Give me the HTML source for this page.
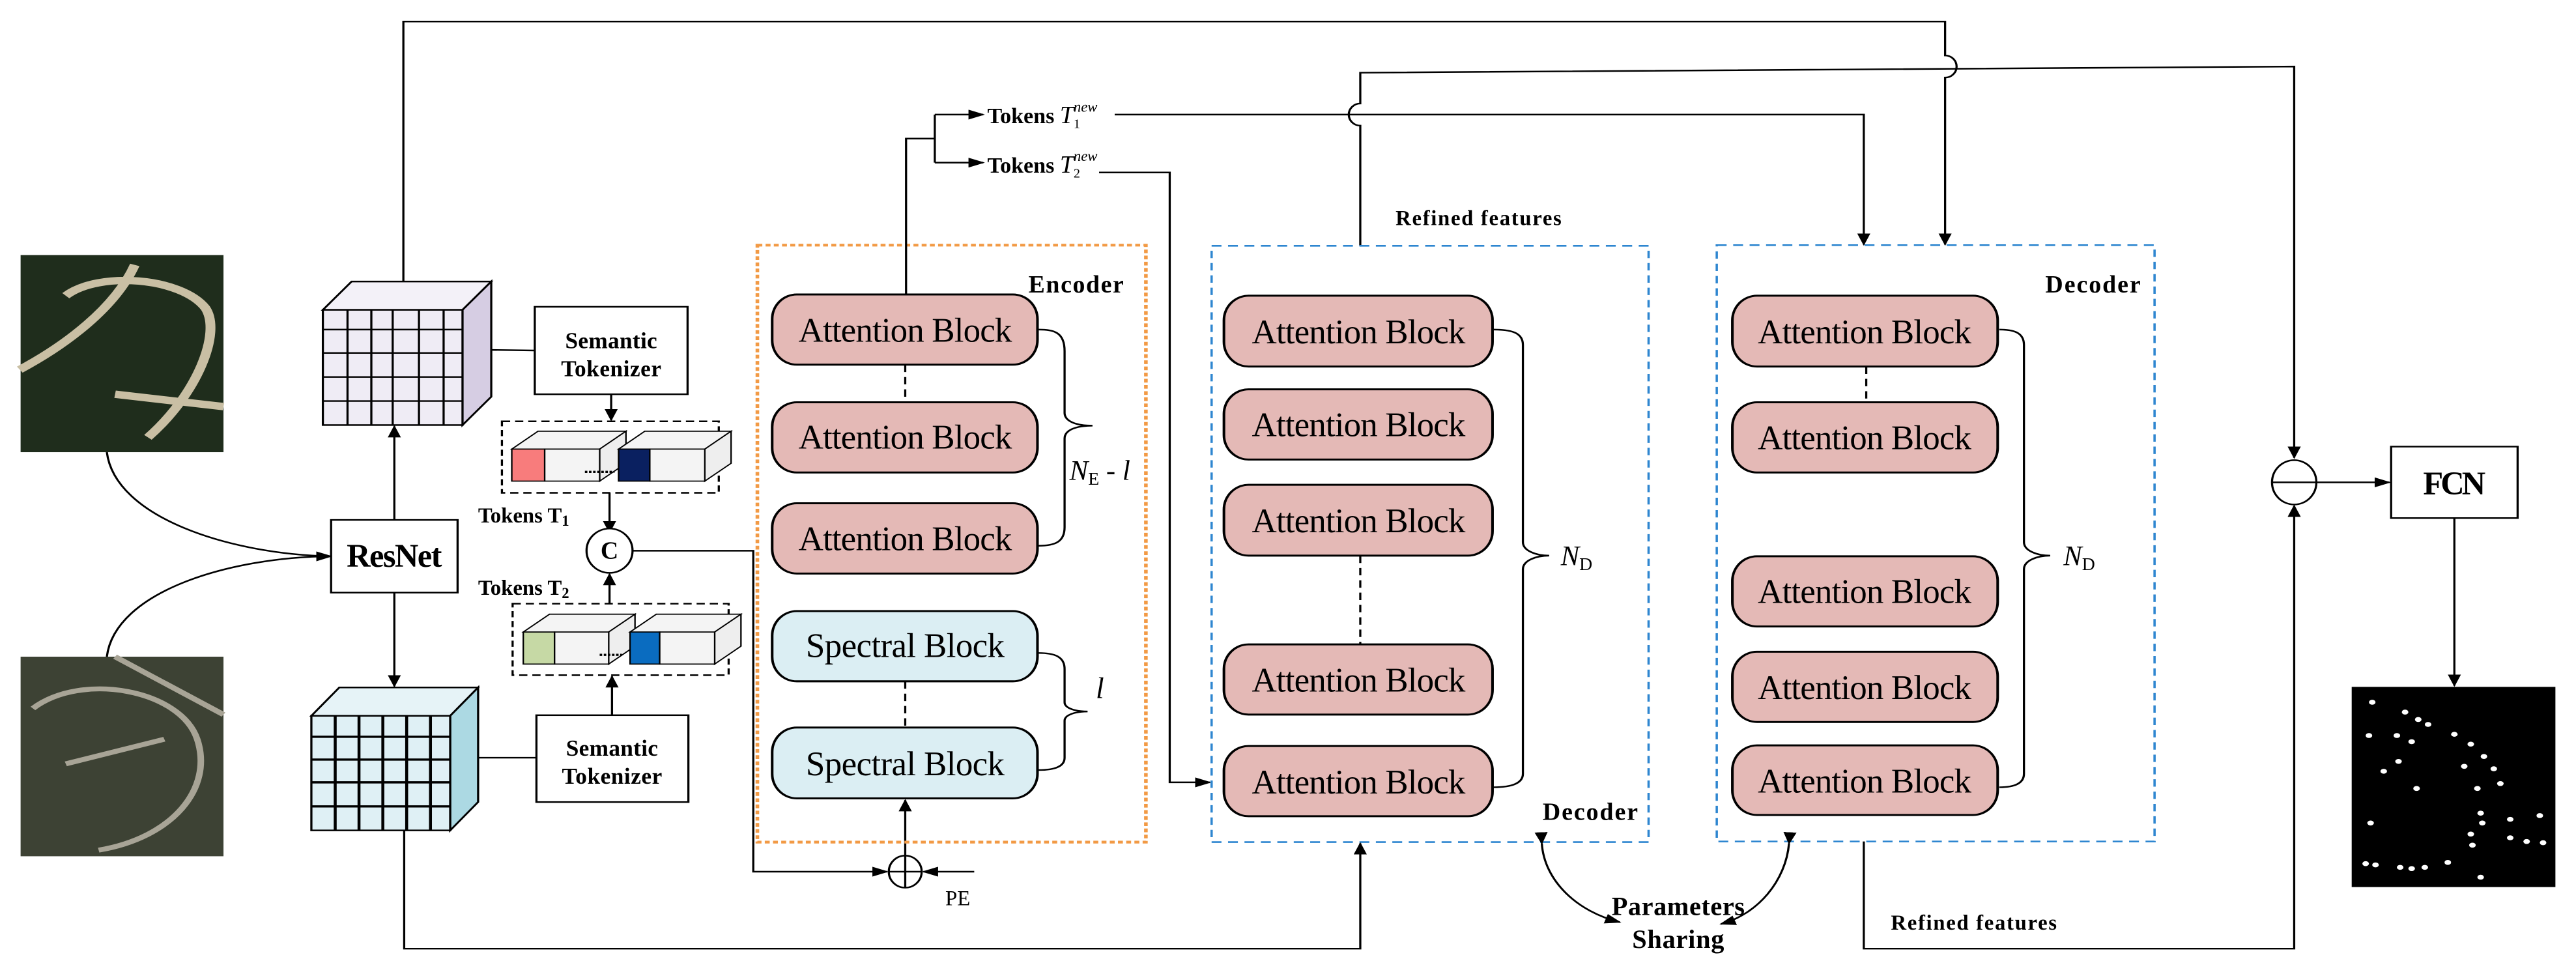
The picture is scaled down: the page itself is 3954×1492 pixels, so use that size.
<!DOCTYPE html>
<html><head><meta charset="utf-8"><style>
html,body{margin:0;padding:0;background:#fff;}
svg{display:block;}
text{font-family:"Liberation Serif",serif;}
</style></head><body>
<svg width="3954" height="1492" viewBox="0 0 1568 591.7" xmlns="http://www.w3.org/2000/svg">
<defs>
<marker id="a" markerWidth="10" markerHeight="8" refX="9" refY="4" orient="auto" markerUnits="userSpaceOnUse"><path d="M0,0 L10,4 L0,8 z" fill="#000"/></marker>
</defs>
<g transform="scale(1,0.75)">
<g fill="none" stroke="#000" stroke-width="1.3">
<rect x="12.5" y="207" width="123.5" height="160" fill="#1f2d1c" stroke="none"/>
<path d="M40,240 C60,220 110,225 125,250 C135,270 120,320 90,355 M12,300 C40,280 70,250 82,215 M70,320 L136,330" stroke="#c9bfa4" stroke-width="6"/>
<rect x="12.5" y="533" width="123.5" height="162" fill="#3d4234" stroke="none"/>
<path d="M20,575 C50,545 110,560 120,600 C130,640 105,680 60,690 M70,533 L136,580 M40,620 L100,600" stroke="#a8a496" stroke-width="4"/>
<rect x="1431.5" y="557.5" width="124" height="162.5" fill="#000" stroke="none"/>
<g fill="#fff" stroke="none">
<circle cx="1444" cy="570" r="2"/><circle cx="1464" cy="578" r="2"/><circle cx="1472" cy="584" r="2"/><circle cx="1478" cy="588" r="2"/><circle cx="1494" cy="596" r="2"/><circle cx="1504" cy="604" r="2"/><circle cx="1442" cy="597" r="2"/><circle cx="1459" cy="597" r="2"/><circle cx="1468" cy="602" r="2"/><circle cx="1512" cy="614" r="2"/><circle cx="1518" cy="624" r="2"/><circle cx="1522" cy="636" r="2"/><circle cx="1500" cy="622" r="2"/><circle cx="1508" cy="640" r="2"/><circle cx="1451" cy="626" r="2"/><circle cx="1460" cy="618" r="2"/><circle cx="1471" cy="640" r="2"/><circle cx="1443" cy="668" r="2"/><circle cx="1510" cy="660" r="2"/><circle cx="1511" cy="668" r="2"/><circle cx="1504" cy="677" r="2"/><circle cx="1505" cy="686" r="2"/><circle cx="1528" cy="665" r="2"/><circle cx="1546" cy="662" r="2"/><circle cx="1528" cy="680" r="2"/><circle cx="1538" cy="683" r="2"/><circle cx="1548" cy="684" r="2"/><circle cx="1440" cy="701" r="2"/><circle cx="1446" cy="702" r="2"/><circle cx="1461" cy="704" r="2"/><circle cx="1468" cy="705" r="2"/><circle cx="1476" cy="704" r="2"/><circle cx="1490" cy="700" r="2"/><circle cx="1510" cy="712" r="2"/>
</g>
<path d="M65,367 C70,420 140,450 201.5,451.5 M65,533 C70,480 140,452 201.5,451.5" marker-end="url(#a)"/>
<rect x="201.5" y="422" width="77" height="59" fill="#fff"/>
<line x1="240" y1="422" x2="240" y2="346" marker-end="url(#a)"/>
<line x1="240" y1="481" x2="240" y2="557" marker-end="url(#a)"/>
<polygon points="196.5,251.5 214,228.5 299,228.5 281.5,251.5" fill="#f3f1f8"/>
<polygon points="281.5,251.5 299,228.5 299,322 281.5,345" fill="#d6cde3"/>
<rect x="196.5" y="251.5" width="85" height="93.5" fill="#efecf5"/>
<path d="M211.5,251.5V345M226,251.5V345M239,251.5V345M255,251.5V345M270,251.5V345M196.5,267.5H281.5M196.5,286.5H281.5M196.5,306H281.5M196.5,325.5H281.5"/>
<polygon points="189.5,581 206.5,558 291,558 274,581" fill="#e6f3f7"/>
<polygon points="274,581 291,558 291,651 274,674" fill="#acd9e3"/>
<rect x="189.5" y="581" width="84.5" height="93" fill="#dff0f5"/>
<path d="M204,581V674M218.5,581V674M233,581V674M247.5,581V674M262,581V674M189.5,598H274M189.5,616.5H274M189.5,635H274M189.5,654.5H274" stroke-width="1.8"/>
<line x1="299" y1="284" x2="325.5" y2="284.5"/>
<rect x="325.5" y="249" width="93" height="71" fill="#fff"/>
<line x1="291" y1="615" x2="326.5" y2="615"/>
<rect x="326.5" y="580.5" width="92.5" height="70.5" fill="#fff"/>
<line x1="372" y1="320" x2="372" y2="341" marker-end="url(#a)"/>
<rect x="305.5" y="342" width="132" height="58" stroke-dasharray="5,3"/>
<line x1="371" y1="400" x2="371" y2="432" marker-end="url(#a)"/>
<ellipse cx="371" cy="447" rx="14" ry="18" fill="#fff"/>
<line x1="371" y1="490" x2="371" y2="466" marker-end="url(#a)"/>
<rect x="312" y="490" width="131.5" height="58" stroke-dasharray="5,3"/>
<line x1="372.5" y1="580.5" x2="372.5" y2="549" marker-end="url(#a)"/>
<g stroke-width="0.9">
<polygon points="311.5,364.5 327.5,350 381,350 365,364.5" fill="#f4f4f4"/><polygon points="365,364.5 381,350 381,376 365,390.5" fill="#eee"/><rect x="331.5" y="364.5" width="33.5" height="26" fill="#f4f4f4"/><rect x="311.5" y="364.5" width="20" height="26" fill="#f87c7c"/>
<polygon points="376.5,364.5 392.5,350 445,350 429,364.5" fill="#f4f4f4"/><polygon points="429,364.5 445,350 445,376 429,390.5" fill="#eee"/><rect x="395.5" y="364.5" width="33.5" height="26" fill="#f4f4f4"/><rect x="376.5" y="364.5" width="19" height="26" fill="#0a2060"/>
<polygon points="318.5,513 334.5,498.5 386.5,498.5 370.5,513" fill="#f4f4f4"/><polygon points="370.5,513 386.5,498.5 386.5,524.5 370.5,539" fill="#eee"/><rect x="337.5" y="513" width="33" height="26" fill="#f4f4f4"/><rect x="318.5" y="513" width="19" height="26" fill="#c6d9a5"/>
<polygon points="383.5,513 399.5,498.5 451,498.5 435,513" fill="#f4f4f4"/><polygon points="435,513 451,498.5 451,524.5 435,539" fill="#eee"/><rect x="401.5" y="513" width="33.5" height="26" fill="#f4f4f4"/><rect x="383.5" y="513" width="18" height="26" fill="#0a6cc0"/>
</g>
<path d="M356,383H374M365,531.5H378.5" stroke-dasharray="1.5,1" stroke-width="1.8"/>
<polyline points="385,447 458.5,447 458.5,707.5 540,707.5" marker-end="url(#a)"/>
<ellipse cx="551" cy="707.5" rx="10" ry="13" fill="#fff"/>
<path d="M541,707.5H561M551,694.5V720.5"/>
<line x1="593" y1="707.5" x2="562" y2="707.5" marker-end="url(#a)"/>
<line x1="551" y1="694.5" x2="551" y2="649.5" marker-end="url(#a)"/>
<rect x="461" y="199" width="236.5" height="484.5" stroke="#f29a45" stroke-width="2.2" stroke-dasharray="3,2"/>
<g fill="#e4b9b6" stroke-width="1.6">
<rect x="470" y="239" width="161.5" height="57" rx="15" ry="20"/>
<rect x="470" y="326.5" width="161.5" height="57" rx="15" ry="20"/>
<rect x="470" y="408.5" width="161.5" height="57" rx="15" ry="20"/>
</g>
<g fill="#dbeef3" stroke-width="1.6">
<rect x="470" y="496" width="161.5" height="57" rx="15" ry="20"/>
<rect x="470" y="590.5" width="161.5" height="57.5" rx="15" ry="20"/>
</g>
<path d="M551,296V326.5M551,553V590.5" stroke-dasharray="6,4"/>
<path d="M632,267.5 C642,267.5 648,270 648,285 L648,335 C648,342 655,345.5 665,345.5 C655,345.5 648,349 648,356 L648,428 C648,440 642,443 632,443"/>
<path d="M632,530 C642,530 648,533 648,543 L648,570 C648,575 655,577.5 662,577.5 C655,577.5 648,580 648,585 L648,615 C648,622 642,625 632,625"/>
<polyline points="551.5,239 551.5,112.5 569,112.5"/>
<path d="M569,93V132"/>
<line x1="569" y1="93" x2="598.5" y2="93" marker-end="url(#a)"/>
<line x1="569" y1="132" x2="598.5" y2="132" marker-end="url(#a)"/>
<path d="M678.5,93 H1134.5 V198.5" marker-end="url(#a)"/>
<path d="M669,140 H712 V635 H736.5" marker-end="url(#a)"/>
<path d="M245.5,228.5 V17.5 H1184 V45 A7,9 0 0 1 1184,63 V198.5" marker-end="url(#a)"/>
<path d="M828,199.5 V102 A7,9 0 0 1 828,84 V59 L1396.5,54 V371.5" marker-end="url(#a)"/>
<rect x="737.5" y="199.5" width="266" height="484" stroke="#2e86d0" stroke-width="1.4" stroke-dasharray="6,4"/>
<g fill="#e4b9b6" stroke-width="1.6">
<rect x="745" y="240" width="163.5" height="57.5" rx="15" ry="20"/>
<rect x="745" y="316" width="163.5" height="57" rx="15" ry="20"/>
<rect x="745" y="393.5" width="163.5" height="57.5" rx="15" ry="20"/>
<rect x="745" y="523" width="163.5" height="57" rx="15" ry="20"/>
<rect x="745" y="605.5" width="163.5" height="57" rx="15" ry="20"/>
</g>
<path d="M828,451V523" stroke-dasharray="6,4"/>
<path d="M909,267.5 C920,267.5 927,270 927,280 L927,440 C927,447 935,451 943,451 C935,451 927,455 927,462 L927,628 C927,636 920,639 909,639"/>
<rect x="1045" y="199" width="266.5" height="484" stroke="#2e86d0" stroke-width="1.4" stroke-dasharray="6,4"/>
<g fill="#e4b9b6" stroke-width="1.6">
<rect x="1054.5" y="240" width="161.5" height="57.5" rx="15" ry="20"/>
<rect x="1054.5" y="326.5" width="161.5" height="57" rx="15" ry="20"/>
<rect x="1054.5" y="451.5" width="161.5" height="57" rx="15" ry="20"/>
<rect x="1054.5" y="529" width="161.5" height="57" rx="15" ry="20"/>
<rect x="1054.5" y="605" width="161.5" height="56.5" rx="15" ry="20"/>
</g>
<path d="M1136,297.5V326.5" stroke-dasharray="6,4"/>
<path d="M1217,267.5 C1226,267.5 1232,270 1232,280 L1232,440 C1232,447 1240,451 1248,451 C1240,451 1232,455 1232,462 L1232,628 C1232,636 1226,639 1217,639"/>
<ellipse cx="1396.5" cy="391.5" rx="13.5" ry="18" fill="#fff"/>
<line x1="1383" y1="391.5" x2="1410" y2="391.5"/>
<line x1="1410" y1="391.5" x2="1454.5" y2="391.5" marker-end="url(#a)"/>
<rect x="1455.5" y="362.5" width="77" height="58" fill="#fff"/>
<line x1="1494" y1="420.5" x2="1494" y2="556.5" marker-end="url(#a)"/>
<path d="M1134.5,683 V770 H1396.5 V410.5" marker-end="url(#a)"/>
<path d="M246,674 V770 H828 V684.5" marker-end="url(#a)"/>
<path d="M938.5,684.5 C940,715 960,740 986,748.5" marker-start="url(#a)" marker-end="url(#a)"/>
<path d="M1089,684.5 C1087,715 1070,742 1047.5,750" marker-start="url(#a)" marker-end="url(#a)"/>
</g>
</g>
<g fill="#000">
<text x="240" y="345" font-size="20" font-weight="bold" text-anchor="middle" textLength="58">ResNet</text>
<text x="372" y="212" font-size="14" font-weight="bold" text-anchor="middle" textLength="56">Semantic</text>
<text x="372" y="229" font-size="14" font-weight="bold" text-anchor="middle" textLength="61">Tokenizer</text>
<text x="372.5" y="460" font-size="14" font-weight="bold" text-anchor="middle" textLength="56">Semantic</text>
<text x="372.5" y="477" font-size="14" font-weight="bold" text-anchor="middle" textLength="61">Tokenizer</text>
<text x="291" y="318" font-size="13" font-weight="bold">Tokens T<tspan font-size="9" dy="2">1</tspan></text>
<text x="291" y="362" font-size="13" font-weight="bold">Tokens T<tspan font-size="9" dy="2">2</tspan></text>
<text x="371" y="340" font-size="15" font-weight="bold" text-anchor="middle">C</text>
<text x="583" y="551" font-size="13" text-anchor="middle">PE</text>
<text x="601" y="75" font-size="13.5" font-weight="bold">Tokens <tspan font-style="italic" font-weight="normal" font-size="15">T</tspan><tspan font-size="8" dy="3" font-weight="normal">1</tspan><tspan font-size="9" dy="-10" dx="-4" font-style="italic" font-weight="normal">new</tspan></text>
<text x="601" y="105" font-size="13.5" font-weight="bold">Tokens <tspan font-style="italic" font-weight="normal" font-size="15">T</tspan><tspan font-size="8" dy="3" font-weight="normal">2</tspan><tspan font-size="9" dy="-10" dx="-4" font-style="italic" font-weight="normal">new</tspan></text>
<text x="684" y="178" font-size="15" font-weight="bold" text-anchor="end" textLength="58">Encoder</text>
<g font-size="21" text-anchor="middle">
<text x="551" y="208" textLength="130">Attention Block</text>
<text x="551" y="273" textLength="130">Attention Block</text>
<text x="551" y="335" textLength="130">Attention Block</text>
<text x="551" y="400" textLength="121">Spectral Block</text>
<text x="551" y="472" textLength="121">Spectral Block</text>
<text x="827" y="209" textLength="130">Attention Block</text>
<text x="827" y="265.5" textLength="130">Attention Block</text>
<text x="827" y="324" textLength="130">Attention Block</text>
<text x="827" y="421" textLength="130">Attention Block</text>
<text x="827" y="483" textLength="130">Attention Block</text>
<text x="1135" y="209" textLength="130">Attention Block</text>
<text x="1135" y="273.5" textLength="130">Attention Block</text>
<text x="1135" y="367" textLength="130">Attention Block</text>
<text x="1135" y="425.5" textLength="130">Attention Block</text>
<text x="1135" y="482.5" textLength="130">Attention Block</text>
</g>
<text x="651" y="292" font-size="17" font-style="italic">N<tspan font-size="11" dy="3" font-style="normal">E</tspan><tspan dy="-3"> - </tspan><tspan font-style="italic">l</tspan></text>
<text x="667" y="425" font-size="18" font-style="italic">l</text>
<text x="950" y="344" font-size="17" font-style="italic">N<tspan font-size="11" dy="3" font-style="normal">D</tspan></text>
<text x="1256" y="344" font-size="17" font-style="italic">N<tspan font-size="11" dy="3" font-style="normal">D</tspan></text>
<text x="997" y="499" font-size="15" font-weight="bold" text-anchor="end" textLength="58">Decoder</text>
<text x="1303" y="178" font-size="15" font-weight="bold" text-anchor="end" textLength="58">Decoder</text>
<text x="849.5" y="137" font-size="13" font-weight="bold" textLength="101">Refined features</text>
<text x="1151" y="566" font-size="13" font-weight="bold" textLength="101">Refined features</text>
<text x="1021.5" y="557" font-size="16" font-weight="bold" text-anchor="middle" textLength="81">Parameters</text>
<text x="1021.5" y="577" font-size="16" font-weight="bold" text-anchor="middle" textLength="56">Sharing</text>
<text x="1494" y="301" font-size="20" font-weight="bold" text-anchor="middle" textLength="38">FCN</text>
</g>
</svg>
</body></html>
